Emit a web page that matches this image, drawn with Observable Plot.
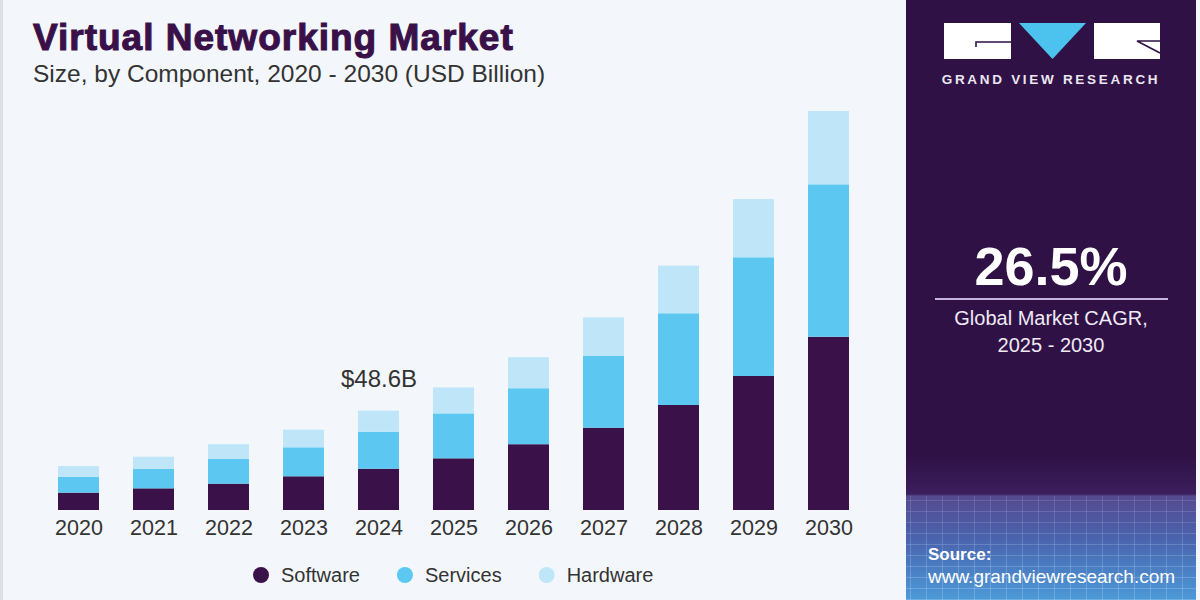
<!DOCTYPE html>
<html>
<head>
<meta charset="utf-8">
<script src="https://cdn.jsdelivr.net/npm/d3@7"></script>
<script src="https://cdn.jsdelivr.net/npm/@observablehq/plot@0.6"></script>
<style>
  html, body { margin: 0; padding: 0; }
  body { width: 1200px; height: 600px; overflow: hidden; font-family: "Liberation Sans", Arial, sans-serif; }
  #root { position: relative; width: 1200px; height: 600px; background: #f3f7fb; }
  #root .edge { position: absolute; left: 0; top: 0; width: 3px; height: 600px; background: #dde1e6; }
  .t { position: absolute; line-height: 1; white-space: nowrap; }
  #title { left: 33px; top: 19px; font-size: 37px; font-weight: bold; color: #3a1048; -webkit-text-stroke: 1.1px #3a1048; letter-spacing: 1px; }
  #subtitle { left: 33px; top: 62px; font-size: 24.5px; color: #333; }
  #chart { position: absolute; left: 0; top: 90px; }
  #legend { position: absolute; left: 253px; top: 563px; }
  #legend .lg-swatches { display: flex; align-items: center; font-size: 20px; color: #333; font-family: "Liberation Sans", Arial, sans-serif; min-height: 24px; margin: 0; }
  #legend .lg-swatch { margin-right: 37px; display: inline-flex; align-items: center; }
  #legend .lg-swatch svg { margin-right: 12px; clip-path: circle(50%); }
  #panel { position: absolute; left: 906px; top: 0; width: 290px; height: 600px; overflow: hidden;
    background: linear-gradient(to bottom, #2f1146 0px, #2f1146 455px, #3b1e5c 494px, #55498f 496px, #4a64ae 540px, #4c9ad8 600px); }
  #panel .grid { position: absolute; left: -60px; top: 496px; width: 410px; height: 104px;
    background:
      repeating-linear-gradient(90deg, rgba(200,225,255,0.28) 0 1px, transparent 1px 16px),
      repeating-linear-gradient(0deg, rgba(200,225,255,0.28) 0 1px, transparent 1px 11px);
    -webkit-mask-image: linear-gradient(to bottom, rgba(0,0,0,0.55) 0%, #000 100%);
    mask-image: linear-gradient(to bottom, rgba(0,0,0,0.55) 0%, #000 100%); }
  #logo { position: absolute; left: 0; top: 0; }
  #brand { left: 0; width: 290px; text-align: center; top: 73px; font-size: 13.5px; font-weight: bold; letter-spacing: 2.7px; color: #ebe6f0; }
  #cagr { left: 0; width: 290px; text-align: center; top: 239px; font-size: 54px; font-weight: bold; color: #ffffff; }
  #rule { position: absolute; left: 29px; top: 298px; width: 233px; height: 2px; background: #c7b3df; }
  #cagrLabel { left: 0; width: 290px; text-align: center; top: 305px; font-size: 20px; line-height: 27px; color: #efe9f5; white-space: normal; }
  #srcHead { left: 22px; top: 546px; font-size: 17px; font-weight: bold; color: #ffffff; }
  #srcUrl { left: 22px; top: 567px; font-size: 19px; color: #ffffff; }
</style>
</head>
<body>
<div id="root">
  <div class="edge"></div>
  <div id="title" class="t">Virtual Networking Market</div>
  <div id="subtitle" class="t">Size, by Component, 2020 - 2030 (USD Billion)</div>
  <div id="chart"></div>
  <div id="legend"></div>
  <div id="panel">
    <div class="grid"></div>
    <svg id="logo" width="290" height="70">
      <rect x="38" y="23" width="67" height="36" fill="#ffffff"></rect>
      <path d="M70 47 V42 H105" fill="none" stroke="#2f1146" stroke-width="1.6"></path>
      <path d="M113 23 H180 L146.5 59 Z" fill="#4cc3ef"></path>
      <rect x="188" y="23" width="66" height="36" fill="#ffffff"></rect>
      <path d="M254 41 H231 L254 53" fill="none" stroke="#2f1146" stroke-width="1.6"></path>
    </svg>
    <div id="brand" class="t">GRAND VIEW RESEARCH</div>
    <div id="cagr" class="t">26.5%</div>
    <div id="rule"></div>
    <div id="cagrLabel" class="t">Global Market CAGR,<br>2025 - 2030</div>
    <div id="srcHead" class="t">Source:</div>
    <div id="srcUrl" class="t">www.grandviewresearch.com</div>
  </div>
</div>
<script>
// Market size by component, USD billion
const years = ["2020", "2021", "2022", "2023", "2024", "2025", "2026", "2027", "2028", "2029", "2030"];
const components = ["Software", "Services", "Hardware"];
const componentColors = ["#3a1148", "#5cc8f2", "#bee6f8"];
const software = [8.5, 10.6, 12.9, 16.5, 20.2, 25.3, 32.2, 40.3, 51.4, 65.6, 84.8];
const services = [7.8, 9.5, 12.1, 14.2, 18.1, 22.0, 27.4, 35.1, 44.9, 58.1, 74.6];
const hardware = [5.2, 6.0, 7.2, 8.6, 10.3, 12.7, 15.2, 18.9, 23.3, 28.5, 35.9];
const labelYear = "2024";

const seriesByComponent = {Software: software, Services: services, Hardware: hardware};
const rows = components.flatMap((c) =>
  years.map((year, i) => ({year, component: c, value: seriesByComponent[c][i]}))
);

const li = years.indexOf(labelYear);
const labelTotal = software[li] + services[li] + hardware[li];
const labelRows = [{year: labelYear, total: labelTotal, text: `$${labelTotal.toFixed(1)}B`}];

const chart = Plot.plot({
  width: 905,
  height: 470,
  marginLeft: 22.4,
  marginRight: 20.1,
  marginTop: 11.4,
  marginBottom: 50,
  style: {background: "transparent", fontFamily: "'Liberation Sans', Arial, sans-serif", fontSize: "21.5px", color: "#333"},
  x: {domain: years, padding: 0.45, label: null, tickSize: 0, tickPadding: 9},
  y: {domain: [0, 200], axis: null},
  color: {domain: components, range: componentColors},
  marks: [
    Plot.barY(rows, {x: "year", y: "value", fill: "component"}),
    Plot.text(labelRows, {x: "year", y: "total", text: "text", dy: -32, fontSize: 24, fill: "#333"})
  ]
});
document.getElementById("chart").appendChild(chart);

const legend = Plot.legend({
  color: {domain: components, range: componentColors},
  legend: "swatches",
  swatchSize: 16,
  className: "lg"
});
document.getElementById("legend").appendChild(legend);
</script>
</body>
</html>
